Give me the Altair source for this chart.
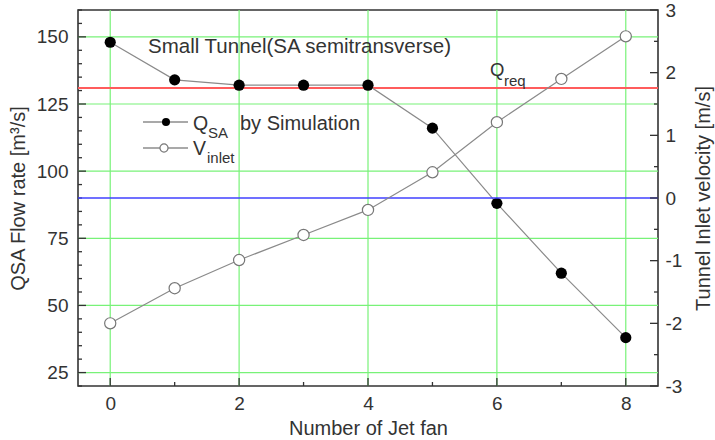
import altair as alt
import pandas as pd

# ---------------- data ----------------
jet_fans = [0, 1, 2, 3, 4, 5, 6, 7, 8]
q_sa = [148, 134, 132, 132, 132, 116, 88, 62, 38]
v_inlet = [-2.0, -1.44, -0.99, -0.59, -0.19, 0.41, 1.21, 1.9, 2.58]
q_req = [131]
v_zero = [0]

x_major = [0, 2, 4, 6, 8]
x_minor = [1, 3, 5, 7]
q_major = [25, 50, 75, 100, 125, 150]
q_minor = [20, 30, 35, 40, 45, 55, 60, 65, 70, 80, 85, 90, 95, 105, 110, 115, 120,
           130, 135, 140, 145, 155, 160]
v_major = [-3, -2, -1, 0, 1, 2, 3]
v_minor = [-2.5, -1.5, -0.5, 0.5, 1.5, 2.5]

# ---------------- style ----------------
W, H = 580, 376
FONT = "Liberation Sans"
TXT = "#333333"
GREEN = "#78f278"
FRAME = "#333333"
LINE = "#8a8a8a"

main = pd.DataFrame({"n": jet_fans, "q": q_sa, "v": v_inlet})


def xenc(field):
    return alt.X(
        f"{field}:Q",
        scale=alt.Scale(domain=[-0.5, 8.5], nice=False, zero=False),
        axis=alt.Axis(values=x_major, format="d", title="Number of Jet fan",
                      grid=False, ticks=False, domain=False,
                      labelPadding=8, titlePadding=5),
    )


def yq(field):
    return alt.Y(
        f"{field}:Q",
        scale=alt.Scale(domain=[20, 160], nice=False, zero=False),
        axis=alt.Axis(values=q_major, orient="left", title="QSA Flow rate [m³/s]",
                      grid=False, ticks=False, domain=False,
                      labelPadding=10, titlePadding=8),
    )


def yv(field):
    return alt.Y(
        f"{field}:Q",
        scale=alt.Scale(domain=[-3, 3], nice=False, zero=False),
        axis=alt.Axis(values=v_major, orient="right", title="Tunnel Inlet velocity [m/s]",
                      labelExpr="replace(datum.label, '\u2212', '-')",
                      grid=False, ticks=False, domain=False,
                      labelPadding=7, titlePadding=12,
                      titleAngle=270, titleBaseline="top"),
    )


def label(text, x, y, size):
    return alt.Chart(pd.DataFrame({"t": [text]})).mark_text(
        align="left", baseline="alphabetic", font=FONT, fontSize=size, color=TXT
    ).encode(x=alt.value(x), y=alt.value(y), text="t:N")


def ticks(values, enc_fn, orient, length):
    base = alt.Chart(pd.DataFrame({"t": values})).mark_tick(
        color=FRAME, thickness=1.3, size=length, opacity=1)
    if orient == "left":
        return base.encode(y=enc_fn("t"), x=alt.value(length / 2))
    if orient == "right":
        return base.encode(y=enc_fn("t"), x=alt.value(W - length / 2))
    return base.encode(x=enc_fn("t"), y=alt.value(H - length / 2))


# ---------------- left (Q) group ----------------
grid_h = alt.Chart(pd.DataFrame({"g": q_major})).mark_rule(color=GREEN, strokeWidth=1.2).encode(y=yq("g"))
grid_v = alt.Chart(pd.DataFrame({"g": x_major})).mark_rule(color=GREEN, strokeWidth=1.2).encode(x=xenc("g"))
q_line = alt.Chart(main).mark_line(color=LINE, strokeWidth=1.2).encode(x=xenc("n"), y=yq("q"))
q_pts = alt.Chart(main).mark_point(filled=True, color="black", size=125, opacity=1).encode(
    x=xenc("n"), y=yq("q"))
req_rule = alt.Chart(pd.DataFrame({"r": q_req})).mark_rule(color="#ff5c5c", strokeWidth=2).encode(
    y=yq("r"))

# annotations / legend (pixel positions inside the plot area)
title_txt = label("Small Tunnel(SA semitransverse)", 70, 43, 20.5)
leg1_line = alt.Chart(pd.DataFrame({"a": [0]})).mark_rule(color="#555555", strokeWidth=1.2).encode(
    x=alt.value(65), x2=alt.value(110), y=alt.value(112))
leg1_pt = alt.Chart(pd.DataFrame({"a": [0]})).mark_point(filled=True, color="black", size=65, opacity=1).encode(
    x=alt.value(88), y=alt.value(112))
leg2_line = alt.Chart(pd.DataFrame({"a": [0]})).mark_rule(color="#555555", strokeWidth=1.2).encode(
    x=alt.value(65), x2=alt.value(110), y=alt.value(138))
leg2_pt = alt.Chart(pd.DataFrame({"a": [0]})).mark_point(filled=True, fill="white", stroke="#777777",
                                                         strokeWidth=1.2, size=65, opacity=1).encode(
    x=alt.value(86), y=alt.value(138))
leg_q = label("Q", 115, 120, 19.5)
leg_sa = label("SA", 130, 128, 15)
leg_by = label("by Simulation", 162, 120, 20)
leg_v = label("V", 115, 145, 19.5)
leg_inlet = label("inlet", 129, 153, 15)
req_q = label("Q", 412, 66, 18.5)
req_sub = label("req", 426, 76, 15)

left = alt.layer(
    grid_h, grid_v, req_rule, q_line, q_pts,
    ticks(q_major, yq, "left", 8), ticks(q_minor, yq, "left", 4),
    ticks(x_major, xenc, "bottom", 8), ticks(x_minor, xenc, "bottom", 4),
    title_txt, leg1_line, leg1_pt, leg2_line, leg2_pt,
    leg_q, leg_sa, leg_by, leg_v, leg_inlet, req_q, req_sub,
)

# ---------------- right (V) group ----------------
zero_rule = alt.Chart(pd.DataFrame({"z": v_zero})).mark_rule(color="#4040ff", strokeWidth=1.6).encode(
    y=yv("z"))
v_line = alt.Chart(main).mark_line(color=LINE, strokeWidth=1.2).encode(x=xenc("n"), y=yv("v"))
v_pts = alt.Chart(main).mark_point(filled=True, fill="white", stroke="#777777", strokeWidth=1.2,
                                   size=125, opacity=1).encode(x=xenc("n"), y=yv("v"))

right = alt.layer(zero_rule, v_line, v_pts,
                  ticks(v_major, yv, "right", 8), ticks(v_minor, yv, "right", 4))

chart = (
    alt.layer(left, right)
    .resolve_scale(y="independent")
    .properties(
        width=W, height=H,
        autosize=alt.AutoSizeParams(type="none"),
        padding={"left": 78, "top": 10, "right": 57, "bottom": 54},
        background="white",
    )
    .configure_axis(
        labelFont=FONT, titleFont=FONT, labelFontSize=19, titleFontSize=20,
        labelColor=TXT, titleColor=TXT, titleFontWeight="normal",
    )
    .configure_view(stroke=FRAME, strokeWidth=1.6)
)

chart.save("out.html", embed_options={"renderer": "svg", "actions": False})
